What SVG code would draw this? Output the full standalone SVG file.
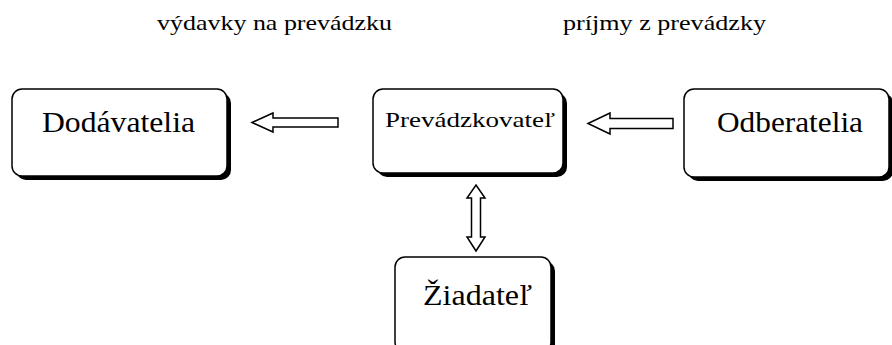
<svg xmlns="http://www.w3.org/2000/svg" width="892" height="345" viewBox="0 0 892 345">
<defs>
<style>
  .shadow { fill: #000; }
  .box { fill: #fff; stroke: #000; stroke-width: 1.5; }
  .arrow { fill: #fff; stroke: #000; stroke-width: 1.5; stroke-linejoin: miter; }
</style>
</defs>
<rect width="892" height="345" fill="#fff"/>
<text x="157" y="30" font-family="Liberation Serif" font-size="21" textLength="235" lengthAdjust="spacingAndGlyphs">výdavky na prevádzku</text>
<text x="563" y="30" font-family="Liberation Serif" font-size="21" textLength="203" lengthAdjust="spacingAndGlyphs">príjmy z prevádzky</text>

<g id="dodavatelia">
  <rect class="shadow" x="16" y="93" width="215" height="87" rx="10"/>
  <rect class="box" x="12" y="89" width="215" height="87" rx="10"/>
  <text x="42" y="132" font-family="Liberation Serif" font-size="30" textLength="153" lengthAdjust="spacingAndGlyphs">Dodávatelia</text>
</g>
<g id="prevadzkovatel">
  <rect class="shadow" x="377" y="93" width="190" height="84" rx="10"/>
  <rect class="box" x="373" y="89" width="190" height="84" rx="10"/>
  <text x="385" y="127" font-family="Liberation Serif" font-size="22" textLength="170" lengthAdjust="spacingAndGlyphs">Prevádzkovateľ</text>
</g>
<g id="odberatelia">
  <rect class="shadow" x="688" y="93" width="205" height="88" rx="10"/>
  <rect class="box" x="684" y="89" width="205" height="88" rx="10"/>
  <text x="717" y="132" font-family="Liberation Serif" font-size="30" textLength="146" lengthAdjust="spacingAndGlyphs">Odberatelia</text>
</g>
<g id="ziadatel">
  <rect class="shadow" x="399" y="261" width="156" height="95" rx="10"/>
  <rect class="box" x="395" y="257" width="156" height="95" rx="10"/>
  <text x="423" y="305" font-family="Liberation Serif" font-size="30" textLength="109" lengthAdjust="spacingAndGlyphs">Žiadateľ</text>
</g>

<g id="connectors">
  <polygon class="arrow" points="252,122.5 273,113 273,118 338,118 338,127 273,127 273,132"/>
  <polygon class="arrow" points="588,123.5 610,113 610,118.5 673,118.5 673,128.5 610,128.5 610,134"/>
  <polygon class="arrow" points="476,185 485,198 480.5,198 480.5,237 485,237 476,251 467,237 471.5,237 471.5,198 467,198"/>
</g>
</svg>
